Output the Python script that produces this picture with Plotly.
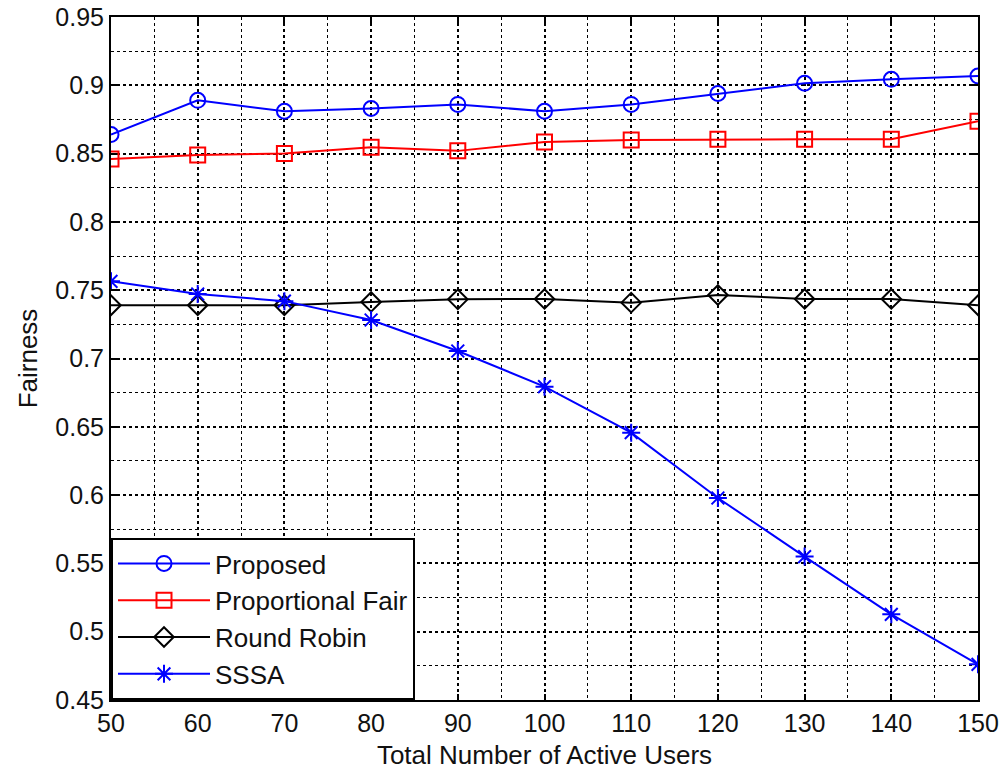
import plotly.graph_objects as go

users = [50, 60, 70, 80, 90, 100, 110, 120, 130, 140, 150]
proposed = [0.864, 0.889, 0.881, 0.883, 0.886, 0.881, 0.886, 0.894, 0.9015, 0.9044, 0.9068]
prop_fair = [0.846, 0.849, 0.850, 0.8546, 0.852, 0.8585, 0.860, 0.8605, 0.8605, 0.8605, 0.8737]
round_robin = [0.739, 0.739, 0.739, 0.7414, 0.7433, 0.7436, 0.7409, 0.7465, 0.7436, 0.7436, 0.739]
sssa = [0.7565, 0.7472, 0.742, 0.7282, 0.7055, 0.6794, 0.6457, 0.5979, 0.555, 0.5127, 0.4761]

x_ticks = list(range(50, 151, 10))
y_ticks = [0.45, 0.5, 0.55, 0.6, 0.65, 0.7, 0.75, 0.8, 0.85, 0.9, 0.95]
y_labels = ["0.45", "0.5", "0.55", "0.6", "0.65", "0.7", "0.75", "0.8", "0.85", "0.9", "0.95"]

FONT = "Liberation Sans, Arial, sans-serif"
TXT = "#111111"

series = [
    ("Proposed", proposed, "#0000ff", "circle-open"),
    ("Proportional Fair", prop_fair, "#ff0000", "square-open"),
    ("Round Robin", round_robin, "#000000", "diamond-open"),
    ("SSSA", sssa, "#0000ff", "asterisk-open"),
]

fig = go.Figure()
for name, vals, color, sym in series:
    fig.add_trace(go.Scatter(
        x=users, y=vals, name=name, mode="lines+markers",
        line=dict(color=color, width=2),
        marker=dict(symbol=sym, size=15, color=color,
                    line=dict(color=color, width=2)),
    ))

axis_common = dict(
    showline=True, linecolor="black", linewidth=2, mirror="ticks",
    ticks="inside", ticklen=6, tickcolor="black", tickwidth=1.5,
    showgrid=True, gridcolor="black", gridwidth=2, griddash="dot",
    zeroline=False, automargin=False,
    tickfont=dict(family=FONT, size=25, color=TXT),
)

fig.update_xaxes(
    range=[50, 150], tickvals=x_ticks,
    title=dict(text="Total Number of Active Users",
               font=dict(family=FONT, size=26, color=TXT), standoff=10),
    minor=dict(dtick=5, tick0=50, showgrid=True, gridcolor="black",
               gridwidth=1, griddash="dot", ticks=""),
    **axis_common,
)
fig.update_yaxes(
    range=[0.45, 0.95], tickvals=y_ticks, ticktext=y_labels,
    title=dict(text="Fairness",
               font=dict(family=FONT, size=26, color=TXT), standoff=10),
    minor=dict(dtick=0.025, tick0=0.45, showgrid=True, gridcolor="black",
               gridwidth=1, griddash="dot", ticks=""),
    **axis_common,
)

fig.update_layout(
    width=1003, height=771,
    margin=dict(l=111, r=25, t=17, b=71),
    paper_bgcolor="white", plot_bgcolor="white",
    font=dict(family=FONT, size=25, color=TXT),
    legend=dict(
        x=0, y=0, xanchor="left", yanchor="bottom",
        bgcolor="white", bordercolor="black", borderwidth=2,
        font=dict(family=FONT, size=26, color=TXT),
        itemwidth=92,
    ),
)

fig.write_html("out.html")
